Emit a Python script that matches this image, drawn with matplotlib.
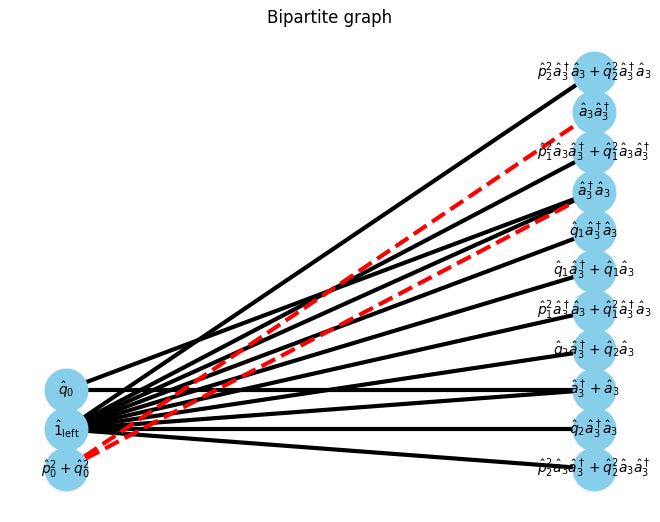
import matplotlib
matplotlib.use('Agg')
import matplotlib.pyplot as plt

left_nodes = [r'$\hat{q}_0$', r'$\hat{1}_{\mathrm{left}}$', r'$\hat{p}_0^2+\hat{q}_0^2$']
right_nodes = [
    r'$\hat{p}_2^2\hat{a}_3^\dagger\hat{a}_3+\hat{q}_2^2\hat{a}_3^\dagger\hat{a}_3$',
    r'$\hat{a}_3\hat{a}_3^\dagger$',
    r'$\hat{p}_1^2\hat{a}_3\hat{a}_3^\dagger+\hat{q}_1^2\hat{a}_3\hat{a}_3^\dagger$',
    r'$\hat{a}_3^\dagger\hat{a}_3$',
    r'$\hat{q}_1\hat{a}_3^\dagger\hat{a}_3$',
    r'$\hat{q}_1\hat{a}_3^\dagger+\hat{q}_1\hat{a}_3$',
    r'$\hat{p}_1^2\hat{a}_3^\dagger\hat{a}_3+\hat{q}_1^2\hat{a}_3^\dagger\hat{a}_3$',
    r'$\hat{q}_2\hat{a}_3^\dagger+\hat{q}_2\hat{a}_3$',
    r'$\hat{a}_3^\dagger+\hat{a}_3$',
    r'$\hat{q}_2\hat{a}_3^\dagger\hat{a}_3$',
    r'$\hat{p}_2^2\hat{a}_3\hat{a}_3^\dagger+\hat{q}_2^2\hat{a}_3\hat{a}_3^\dagger$',
]
# (left index, right index)
black_edges = [(0, 3), (0, 8)] + [(1, j) for j in range(11) if j != 1]
red_edges = [(2, 1), (2, 3)]

# layout: right column evenly spaced, left column aligned with bottom of right
n_r = len(right_nodes)
pos_r = [(1.0, n_r - 1 - j) for j in range(n_r)]
pos_l = [(0.0, 2 - i) for i in range(len(left_nodes))]

fig = plt.figure(figsize=(6.6, 5.22), dpi=100)
ax = fig.add_axes([0.0, 0.0, 1.0, 1.0])
ax.axis('off')
fig.text(0.5, 0.965, 'Bipartite graph', ha='center', va='center', fontsize=12)

for i, j in black_edges:
    ax.plot([pos_l[i][0], pos_r[j][0]], [pos_l[i][1], pos_r[j][1]],
            color='black', lw=3, zorder=1)
for i, j in red_edges:
    ax.plot([pos_l[i][0], pos_r[j][0]], [pos_l[i][1], pos_r[j][1]],
            color='red', lw=3, ls='--', zorder=2)

xs = [p[0] for p in pos_l + pos_r]
ys = [p[1] for p in pos_l + pos_r]
ax.scatter(xs, ys, s=1000, color='skyblue', zorder=3, linewidths=0)
for (x, y), lab in zip(pos_l + pos_r, left_nodes + right_nodes):
    ax.text(x, y, lab, ha='center', va='center', fontsize=10, zorder=4)

ax.set_xlim(-0.125, 1.125)
ax.set_ylim(-1.34, 11.84)
fig.savefig('out.png')
